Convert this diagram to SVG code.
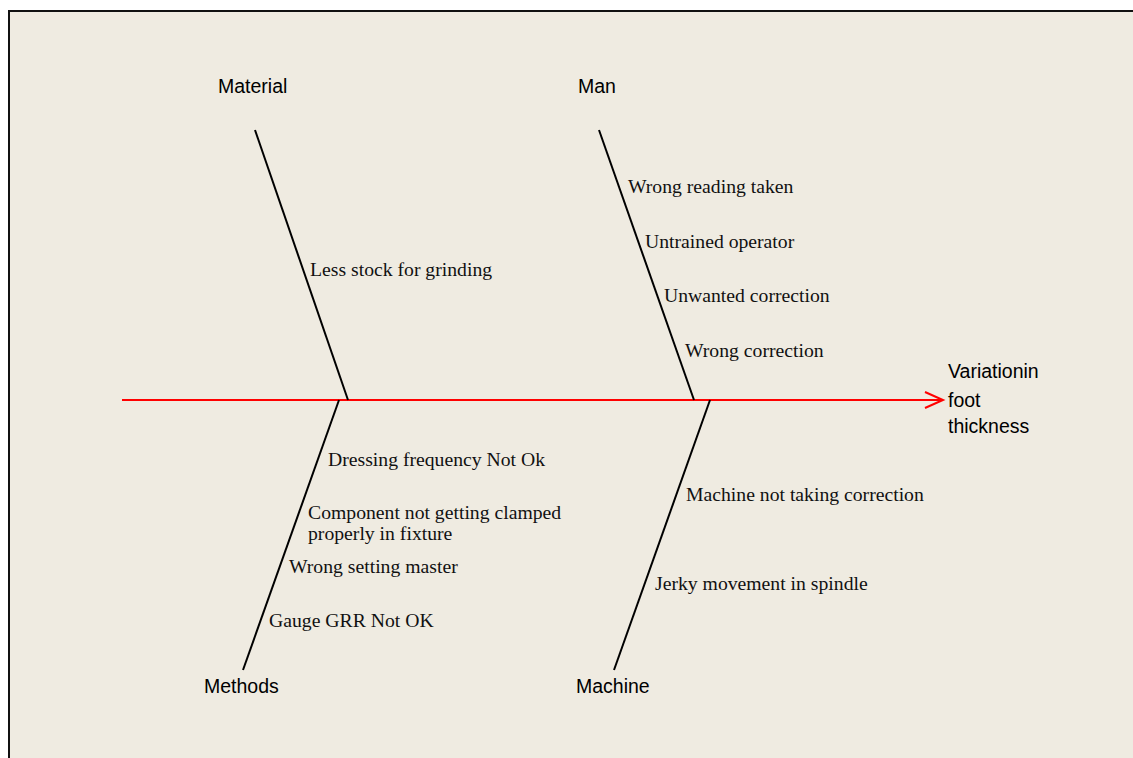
<svg xmlns="http://www.w3.org/2000/svg" width="1133" height="758" viewBox="0 0 1133 758">
<style>
.sans{font-family:"Liberation Sans",Arial,sans-serif;font-size:19.5px;fill:#000}
.serif{font-family:"Liberation Serif","Times New Roman",serif;font-size:19.7px;fill:#111}
.bone{stroke:#000;stroke-width:2;fill:none}
.spine{stroke:#f00;stroke-width:2;fill:none}
</style>
<rect x="0" y="0" width="1133" height="758" fill="#fff"/>
<rect x="9" y="11" width="1140" height="760" fill="#efebe1" stroke="#111" stroke-width="2"/>
<g id="connectors">
<line class="spine" x1="122" y1="400" x2="941" y2="400"/>
<polyline class="spine" points="925,392 943,400 925,408" stroke-width="2.5"/>
<line class="bone" x1="255" y1="130" x2="348" y2="400"/>
<line class="bone" x1="599" y1="130" x2="694" y2="400"/>
<line class="bone" x1="339" y1="400" x2="243" y2="670"/>
<line class="bone" x1="710" y1="400" x2="614" y2="670"/>
</g>
<g id="material">
<text class="sans" x="218" y="93">Material</text>
<text class="serif" x="310" y="276">Less stock for grinding</text>
</g>
<g id="man">
<text class="sans" x="578" y="93">Man</text>
<text class="serif" x="628" y="193">Wrong reading taken</text>
<text class="serif" x="645" y="248">Untrained operator</text>
<text class="serif" x="664" y="302">Unwanted correction</text>
<text class="serif" x="685" y="357">Wrong correction</text>
</g>
<g id="methods">
<text class="sans" x="204" y="693">Methods</text>
<text class="serif" x="328" y="466">Dressing frequency Not Ok</text>
<text class="serif" x="308" y="519">Component not getting clamped</text>
<text class="serif" x="308" y="540">properly in fixture</text>
<text class="serif" x="289" y="573">Wrong setting master</text>
<text class="serif" x="269" y="627">Gauge GRR Not OK</text>
</g>
<g id="machine">
<text class="sans" x="576" y="693">Machine</text>
<text class="serif" x="686" y="501">Machine not taking correction</text>
<text class="serif" x="655" y="590">Jerky movement in spindle</text>
</g>
<g id="effect">
<text class="sans" x="948" y="378">Variationin</text>
<text class="sans" x="948" y="407">foot</text>
<text class="sans" x="948" y="433">thickness</text>
</g>
</svg>
